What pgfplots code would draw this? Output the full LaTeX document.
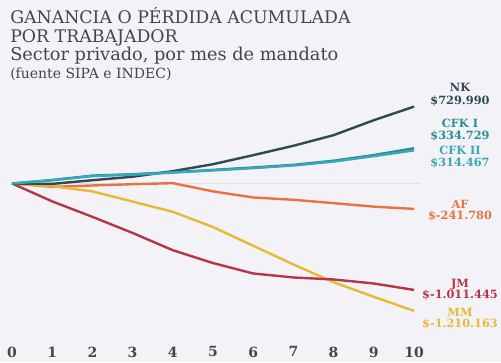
\documentclass[border=0pt]{standalone}
\usepackage{pgfplots}
\pgfplotsset{compat=1.18}
\usepackage{fontspec}
\setmainfont{DejaVu Serif}
\newfontfamily\labfont{DejaVu Serif}
\definecolor{bg}{HTML}{F2F2F7}
\definecolor{titlec}{HTML}{44444C}
\definecolor{cNK}{HTML}{2E4A52}
\definecolor{cCFKI}{HTML}{2A8C95}
\definecolor{cCFKII}{HTML}{38A8B8}
\definecolor{cAF}{HTML}{E8733E}
\definecolor{cJM}{HTML}{B63548}
\definecolor{cMM}{HTML}{E8BA32}
\definecolor{tickc}{HTML}{45454D}
\begin{document}
\begin{tikzpicture}
\fill[bg] (0,0) rectangle (375.75pt,271.5pt);
\useasboundingbox (0,0) rectangle (375.75pt,271.5pt);
\begin{axis}[
  at={(9pt,24pt)}, anchor=south west,
  width=301.5pt, height=180pt, scale only axis,
  xmin=0, xmax=10, ymin=-1392, ymax=888,
  clip=false,
  axis line style={draw=none},
  hide y axis,
  axis x line*=bottom,
  xtick={0,1,2,3,4,5,6,7,8,9,10},
  xticklabels={0,1,2,3,4,5,6,7,8,9,10},
  major tick length=0pt,
  xticklabel style={font=\labfont\bfseries\fontsize{10.5}{12}\selectfont, text=tickc, yshift=-9pt},
  every axis plot/.append style={line width=1.8pt, line join=round},
]
\draw[black!12, line width=0.6pt] (axis cs:0,0) -- (axis cs:10.15,0);
\addplot[cAF, mark=none] coordinates {(0,0) (1,-32) (2,-19) (3,-7) (4,3) (5,-75) (6,-133) (7,-155) (8,-187) (9,-220) (10,-241.78)};
\addplot[cMM, mark=none] coordinates {(0,0) (1,-26) (2,-75) (3,-172) (4,-269) (5,-414) (6,-592) (7,-769) (8,-938) (9,-1077) (10,-1210.163)};
\addplot[cJM, mark=none] coordinates {(0,0) (1,-170) (2,-317) (3,-470) (4,-634) (5,-756) (6,-855) (7,-893) (8,-912) (9,-950) (10,-1011.445)};
\addplot[cNK, mark=none] coordinates {(0,0) (1,-4) (2,31) (3,64) (4,117) (5,183) (6,269) (7,358) (8,459) (9,601) (10,729.99)};
\addplot[cCFKI, mark=none] coordinates {(0,0) (1,33) (2,75) (3,88) (4,107) (5,129) (6,152) (7,177) (8,216) (9,270) (10,334.729)};
\addplot[cCFKII, mark=none] coordinates {(0,0) (1,30) (2,70) (3,84) (4,103) (5,124) (6,146) (7,171) (8,208) (9,260) (10,314.467)};
\end{axis}
\begin{scope}[shift={(0,271.5pt)}, x=0.75pt, y=-0.75pt]
\node[anchor=base west, inner sep=0, text=titlec, font=\fontsize{13}{15}\selectfont] at (10,23.3) {GANANCIA O PÉRDIDA ACUMULADA};
\node[anchor=base west, inner sep=0, text=titlec, font=\fontsize{13}{15}\selectfont] at (10,42.3) {POR TRABAJADOR};
\node[anchor=base west, inner sep=0, text=titlec, font=\fontsize{13.3}{15}\selectfont] at (10,60) {Sector privado, por mes de mandato};
\node[anchor=base west, inner sep=0, text=titlec, font=\fontsize{10.5}{12}\selectfont] at (10,78) {(fuente SIPA e INDEC)};
\tikzset{lab/.style={anchor=base, inner sep=0, font=\labfont\bfseries\fontsize{8.5}{10}\selectfont}}
\node[lab, text=cNK] at (460,91) {NK};
\node[lab, text=cNK] at (460,104) {\$729.990};
\node[lab, text=cCFKI] at (460,127) {CFK I};
\node[lab, text=cCFKI] at (460,139) {\$334.729};
\node[lab, text=cCFKII] at (460,154) {CFK II};
\node[lab, text=cCFKII] at (460,166) {\$314.467};
\node[lab, text=cAF] at (460,208) {AF};
\node[lab, text=cAF] at (460,219) {\$-241.780};
\node[lab, text=cJM] at (460,287) {JM};
\node[lab, text=cJM] at (460,298) {\$-1.011.445};
\node[lab, text=cMM] at (460,316) {MM};
\node[lab, text=cMM] at (460,327) {\$-1.210.163};
\end{scope}
\end{tikzpicture}
\end{document}
